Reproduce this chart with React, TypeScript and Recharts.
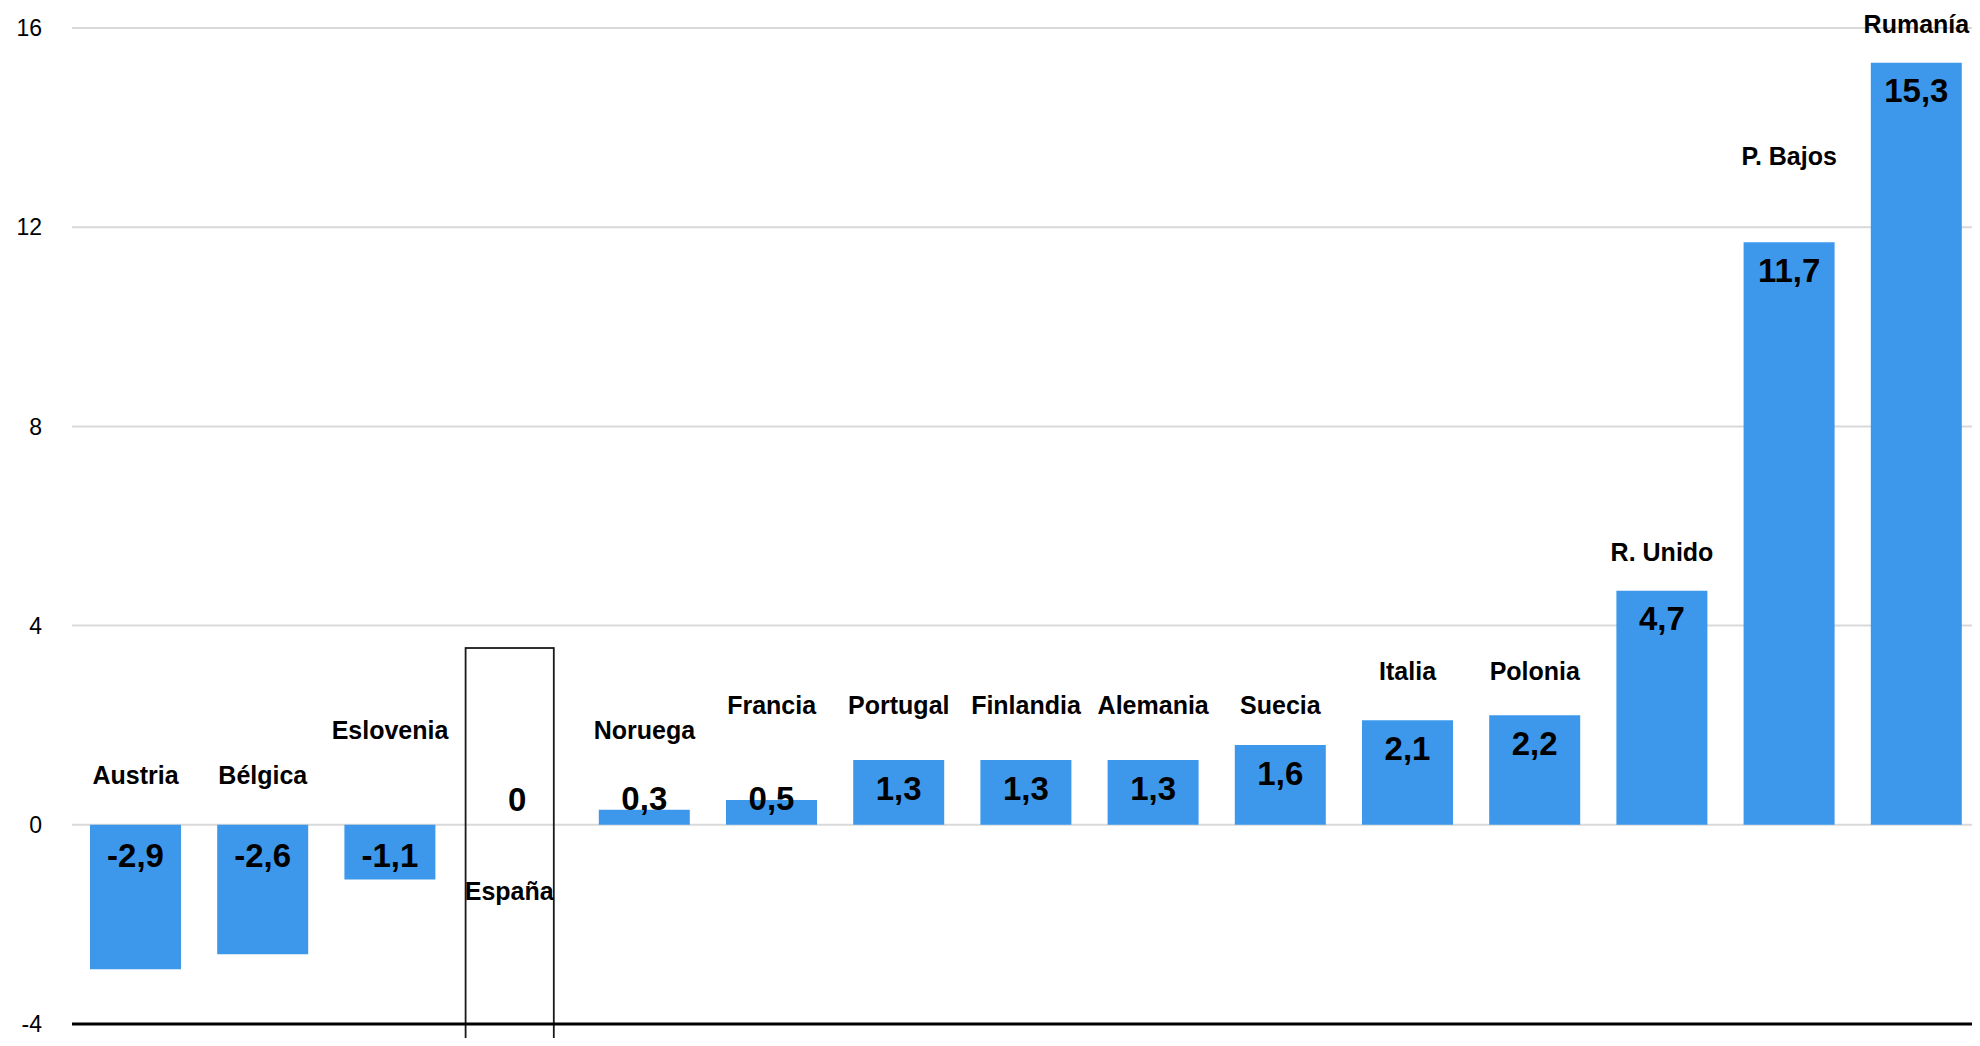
import React from "react";
import {
  Bar,
  BarChart,
  CartesianGrid,
  LabelList,
  ReferenceArea,
  ReferenceDot,
  ReferenceLine,
  XAxis,
  YAxis,
} from "recharts";

const paises = [
  "Austria",
  "Bélgica",
  "Eslovenia",
  "España",
  "Noruega",
  "Francia",
  "Portugal",
  "Finlandia",
  "Alemania",
  "Suecia",
  "Italia",
  "Polonia",
  "R. Unido",
  "P. Bajos",
  "Rumanía",
];

const variacion = [-2.9, -2.6, -1.1, 0, 0.3, 0.5, 1.3, 1.3, 1.3, 1.6, 2.1, 2.2, 4.7, 11.7, 15.3];

const yTicks = [-4, 0, 4, 8, 12, 16];

// altura (en unidades del eje) donde va el nombre de cada país, colocado a mano como en el original
const alturaNombre = [1.0, 1.0, 1.9, -1.33, 1.9, 2.4, 2.4, 2.4, 2.4, 2.4, 3.08, 3.08, 5.47, 13.43, 16.08];

const data = paises.map((pais, i) => ({ pais, valor: variacion[i] }));

const FONT = "'Liberation Sans', Arial, sans-serif";
const AZUL = "#3d98ec";

const fmt = (v: number) => String(v).replace(".", ",");

const valorStyle = {
  fontFamily: FONT,
  fontSize: 33,
  fontWeight: 700,
  fill: "#000",
};

const ValorLabel = (props: any) => {
  const vb = props.viewBox ?? {};
  const x = Number(props.x ?? vb.x ?? 0);
  const y = Number(props.y ?? vb.y ?? 0);
  const width = Number(props.width ?? vb.width ?? 0);
  const height = Number(props.height ?? vb.height ?? 0) || 0;
  const value = Number(props.value ?? 0);
  if (value === 0) return null;
  const top = Math.min(y, y + height);
  const bottom = Math.max(y, y + height);
  const cy = value < 0 ? top + 31 : Math.min(top + 28, bottom - 26);
  return (
    <text x={x + width / 2} y={cy} textAnchor="middle" dominantBaseline="central" {...valorStyle}>
      {fmt(value)}
    </text>
  );
};

const CajaEspana = (props: any) => {
  const { x, y, width, height } = props;
  return (
    <rect
      x={x + 12}
      y={y}
      width={width - 39}
      height={height}
      fill="none"
      stroke="#1a1a1a"
      strokeWidth={1.8}
    />
  );
};

export default function App() {
  return (
    <div style={{ margin: -8, width: 1980, height: 1046, background: "#fff" }}>
      <BarChart
        width={1980}
        height={1046}
        data={data}
        margin={{ top: 28, right: 0, left: 0, bottom: 22 }}
        barSize={91}
      >
        <CartesianGrid stroke="#d9d9d9" strokeWidth={2} vertical={false} />
        <XAxis dataKey="pais" height={0} tick={false} tickLine={false} axisLine={false} />
        <YAxis
          domain={[-4, 16]}
          ticks={yTicks}
          width={72}
          axisLine={false}
          tickLine={false}
          tickSize={0}
          tickMargin={30}
          tick={{ fill: "#000", fontSize: 23, fontFamily: FONT }}
        />
        <ReferenceLine y={-4} stroke="#000" strokeWidth={3} />
        <ReferenceArea
          x1="España"
          x2="España"
          y1={-4.7}
          y2={3.55}
          ifOverflow="visible"
          shape={<CajaEspana />}
        />
        <Bar dataKey="valor" fill={AZUL} isAnimationActive={false}>
          <LabelList dataKey="valor" content={<ValorLabel />} />
        </Bar>
        {/* las barras de valor 0 no tienen altura: su etiqueta va aparte */}
        {data
          .filter((d) => d.valor === 0)
          .map((d) => (
            <ReferenceDot
              key={`cero-${d.pais}`}
              x={d.pais}
              y={d.valor}
              r={0}
              fill="none"
              stroke="none"
              ifOverflow="visible"
              label={{ value: fmt(d.valor), position: "center", dy: -26, ...valorStyle }}
            />
          ))}
        {paises.map((pais, i) => (
          <ReferenceDot
            key={pais}
            x={pais}
            y={alturaNombre[i]}
            r={0}
            fill="none"
            stroke="none"
            ifOverflow="visible"
            label={{
              value: pais,
              position: "center",
              dx: pais === "España" ? -8 : 0,
              fontSize: 25,
              fontWeight: 700,
              fontFamily: FONT,
              fill: "#000",
            }}
          />
        ))}
      </BarChart>
    </div>
  );
}
